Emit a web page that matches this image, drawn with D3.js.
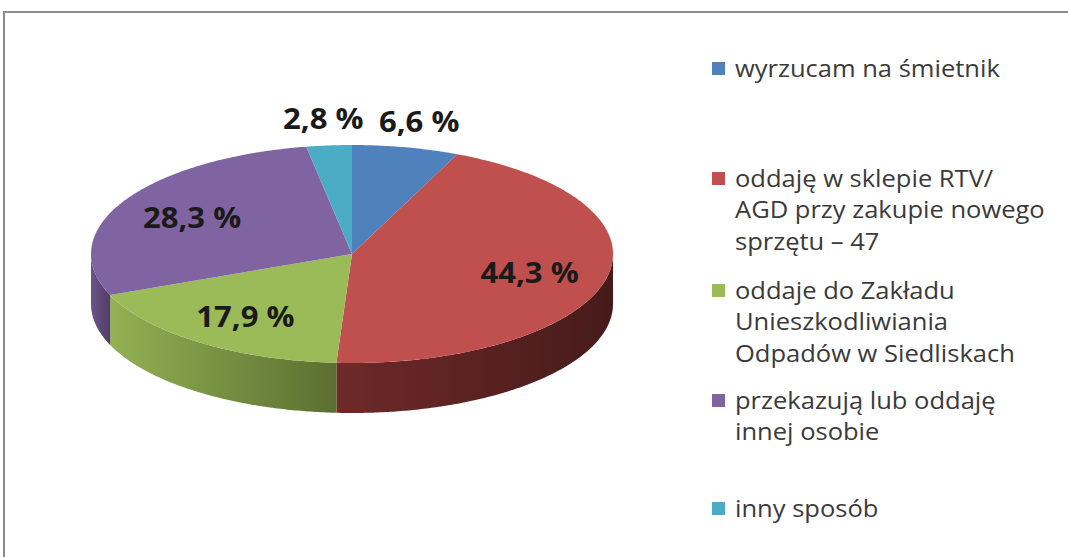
<!DOCTYPE html>
<html>
<head>
<meta charset="utf-8">
<script src="https://cdn.jsdelivr.net/npm/d3@7"></script>
<style>
  body { margin: 0; background: #fff; }
  text { font-family: "Open Sans", sans-serif; }
</style>
</head>
<body>
<svg id="chart" width="1068" height="557"></svg>
<script>
// data
const categories = ["wyrzucam na śmietnik", "oddaję w sklepie RTV/ AGD przy zakupie nowego sprzętu – 47",
  "oddaje do Zakładu Unieszkodliwiania Odpadów w Siedliskach", "przekazują lub oddaję innej osobie", "inny sposób"];
const values = [6.6, 44.3, 17.9, 28.3, 2.8];
const legendLines = [
  ["wyrzucam na śmietnik"],
  ["oddaję w sklepie RTV/", "AGD przy zakupie nowego", "sprzętu – 47"],
  ["oddaje do Zakładu", "Unieszkodliwiania", "Odpadów w Siedliskach"],
  ["przekazują lub oddaję", "innej osobie"],
  ["inny sposób"]
];
const topColors = ["#4F81BD", "#C0504D", "#9BBB59", "#8064A2", "#4BACC6"];
const sideColors = [["#3d6594", "#2a4668"], ["#6e2a29", "#471a1a"], ["#93b154", "#5a6f30"], ["#6c5489", "#4f3d66"], ["#3a8aa0", "#2a6577"]];

const svg = d3.select("#chart");

// outer frame
svg.append("rect")
  .attr("x", 4).attr("y", 12)
  .attr("width", 1100).attr("height", 600)
  .attr("fill", "none").attr("stroke", "#8c8c8c").attr("stroke-width", 2);

const cx = 352, cy = 254, rx = 261, ry = 109, depth = 50;
const stretch = 1.11; // the source image is slightly wider than tall

const pie = d3.pie().sort(null).value(d => d);
const arcs = pie(values);

const px = a => cx + rx * Math.sin(a);
const py = a => cy - ry * Math.cos(a);

function samples(a0, a1) {
  const n = Math.max(2, Math.ceil(Math.abs(a1 - a0) / 0.01));
  return d3.range(n + 1).map(i => a0 + (a1 - a0) * i / n);
}

const defs = svg.append("defs");
sideColors.forEach((c, i) => {
  const g = defs.append("linearGradient").attr("id", "side" + i)
    .attr("x1", "0").attr("x2", "1").attr("y1", "0").attr("y2", "0");
  g.append("stop").attr("offset", "0").attr("stop-color", c[0]);
  g.append("stop").attr("offset", "1").attr("stop-color", c[1]);
});

const line = d3.line().x(d => d[0]).y(d => d[1]);

// side walls (front half only)
arcs.forEach((d, i) => {
  const a0 = Math.max(d.startAngle, Math.PI / 2);
  const a1 = Math.min(d.endAngle, 3 * Math.PI / 2);
  if (a1 <= a0) return;
  const s = samples(a0, a1);
  const pts = s.map(a => [px(a), py(a)])
    .concat(s.slice().reverse().map(a => [px(a), py(a) + depth]));
  svg.append("path")
    .attr("d", line(pts) + "Z")
    .attr("fill", "url(#side" + i + ")");
});

// top faces
arcs.forEach((d, i) => {
  const pts = [[cx, cy]].concat(samples(d.startAngle, d.endAngle).map(a => [px(a), py(a)]));
  svg.append("path")
    .attr("d", line(pts) + "Z")
    .attr("fill", topColors[i]);
});

// data labels
const fmt = v => d3.format(".1f")(v).replace(".", ",") + " %";
arcs.forEach(d => {
  const mid = (d.startAngle + d.endAngle) / 2;
  const k = d.data < 10 ? 1.25 : 0.7;
  const x = cx + rx * k * Math.sin(mid);
  const y = cy - ry * k * Math.cos(mid);
  svg.append("text")
    .attr("transform", `translate(${x},${y}) scale(${stretch},1)`)
    .attr("text-anchor", "middle")
    .attr("dominant-baseline", "central")
    .attr("font-size", 28)
    .attr("font-weight", "bold")
    .attr("fill", "#1a1a1a")
    .text(fmt(d.data));
});

// legend
const legendY = [68, 178, 290, 400, 508];
const lineH = 31.5;
const legend = svg.append("g");
legendLines.forEach((lines, i) => {
  legend.append("rect")
    .attr("x", 712).attr("y", legendY[i] - 6)
    .attr("width", 13).attr("height", 13)
    .attr("fill", topColors[i]);
  lines.forEach((t, j) => {
    legend.append("text")
      .attr("transform", `translate(735,${legendY[i] + j * lineH}) scale(${stretch},1)`)
      .attr("dominant-baseline", "central")
      .attr("font-size", 23)
      .attr("fill", "#3a3a3a")
      .text(t);
  });
});
</script>
</body>
</html>
